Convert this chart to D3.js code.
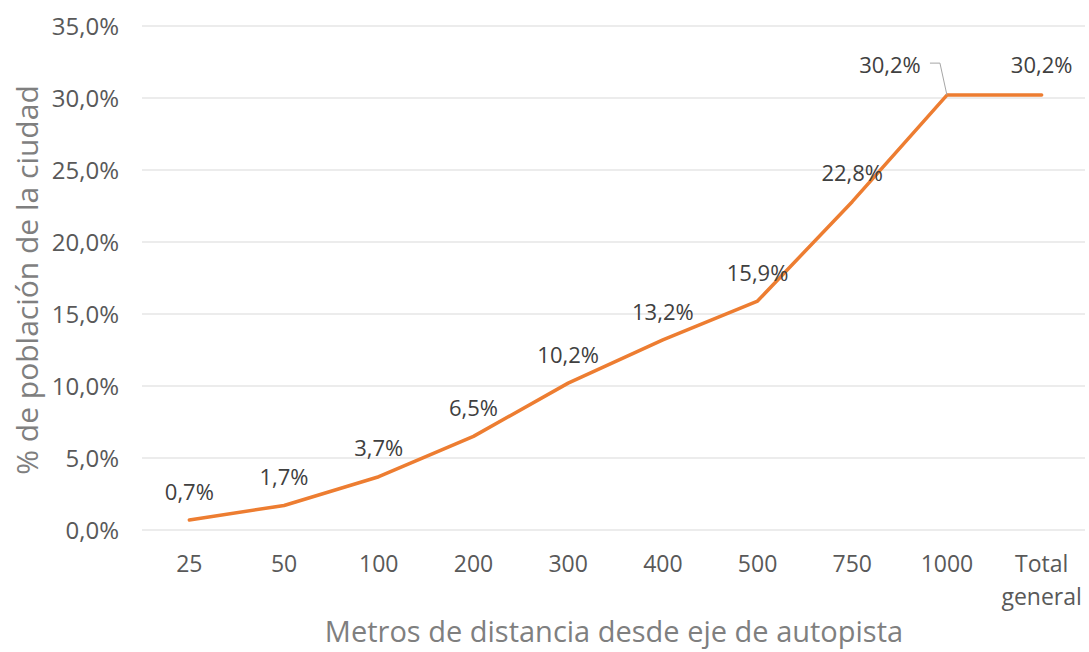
<!DOCTYPE html>
<html><head><meta charset="utf-8">
<script src="https://cdn.jsdelivr.net/npm/d3@7"></script>
<style>body{margin:0;background:#fff}svg{display:block}text{font-family:"Open Sans","DejaVu Sans",sans-serif}</style>
</head><body>
<script>
const categories = ["25","50","100","200","300","400","500","750","1000","Total general"];
const values = [0.7, 1.7, 3.7, 6.5, 10.2, 13.2, 15.9, 22.8, 30.2, 30.2];
const yTicks = [0, 5, 10, 15, 20, 25, 30, 35];
const yTitle = "% de población de la ciudad";
const xTitle = "Metros de distancia desde eje de autopista";

const W = 1089, H = 652;
const svg = d3.select("body").append("svg").attr("width", W).attr("height", H);
const x = d3.scaleBand().domain(categories).range([142, 1089]);
const y = d3.scaleLinear().domain([0, 35]).range([530, 26]);
const fmt = v => v.toFixed(1).replace(".", ",") + "%";

// gridlines
svg.append("g").selectAll("line").data(yTicks).join("line")
  .attr("x1", 142).attr("x2", 1085).attr("y1", d => y(d)).attr("y2", d => y(d))
  .attr("stroke", "#d9d9d9").attr("stroke-width", 1);

// y tick labels
const yAxis = d3.axisLeft(y).tickValues(yTicks).tickFormat(fmt).tickSize(0).tickPadding(0);
const gy = svg.append("g").attr("transform", "translate(119,0)").call(yAxis);
gy.select(".domain").remove();
gy.selectAll("text").attr("font-size", 24).attr("fill", "#595959").attr("dy", "0.35em");

// x tick labels
const xAxis = d3.axisBottom(x).tickSize(0).tickPadding(0);
const gx = svg.append("g").attr("transform", "translate(0,556)").call(xAxis);
gx.select(".domain").remove();
gx.selectAll("text").attr("font-size", 23).attr("fill", "#595959")
  .each(function(d){
    const parts = d.split(" ");
    const t = d3.select(this).text(null);
    parts.forEach((p,i) => t.append("tspan").attr("x", 0).attr("dy", i === 0 ? "0.7em" : "1.42em").text(p));
  });
gx.selectAll("text").attr("dy", null);

// line
const cx = i => x(categories[i]) + x.bandwidth()/2;
const line = d3.line().x((d,i) => cx(i)).y(d => y(d));
svg.append("path").datum(values).attr("d", line)
  .attr("fill", "none").attr("stroke", "#ED7D31").attr("stroke-width", 3.5)
  .attr("stroke-linejoin", "round").attr("stroke-linecap", "round");

// data labels
const labels = svg.append("g");
values.forEach((v, i) => {
  let lx = cx(i), ly = y(v) - 28;
  if (i === 8) { lx = cx(i) - 57; ly = y(v) - 30; }
  if (i === 9) { ly = y(v) - 30; }
  labels.append("text").attr("x", lx).attr("y", ly).attr("dy", "0.35em")
    .attr("text-anchor", "middle").attr("font-size", 22).attr("fill", "#404040").text(fmt(v));
});
// leader line for 1000 label
{
  const px = cx(8), py = y(values[8]);
  svg.append("polyline")
    .attr("points", [[px - 17, py - 32], [px - 7, py - 32], [px, py]].map(p => p.join(",")).join(" "))
    .attr("fill", "none").attr("stroke", "#a6a6a6").attr("stroke-width", 1);
}

// axis titles
svg.append("text").attr("transform", `translate(38,280) rotate(-90)`)
  .attr("text-anchor", "middle").attr("font-size", 30).attr("fill", "#7f7f7f").text(yTitle);
svg.append("text").attr("x", 614).attr("y", 642)
  .attr("text-anchor", "middle").attr("font-size", 29).attr("fill", "#7f7f7f").text(xTitle);
</script>
</body></html>
